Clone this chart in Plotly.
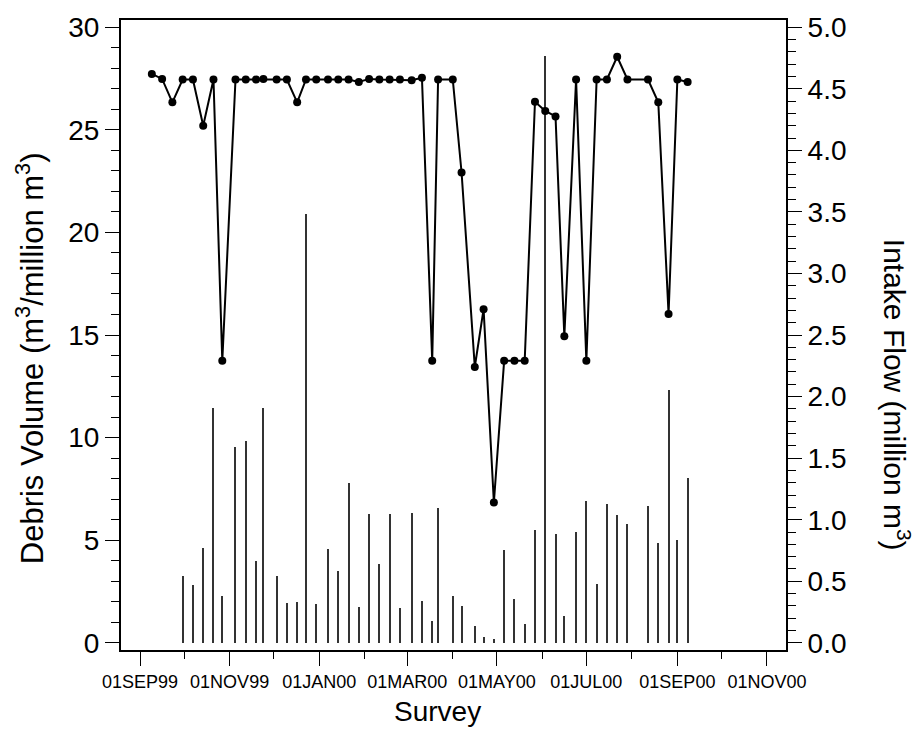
import plotly.graph_objects as go

# ---- data ----
survey_dates = [
    "1999-09-09", "1999-09-16", "1999-09-23", "1999-09-30", "1999-10-07", "1999-10-14",
    "1999-10-21", "1999-10-27", "1999-11-05", "1999-11-12", "1999-11-19", "1999-11-24",
    "1999-12-03", "1999-12-10", "1999-12-17", "1999-12-23", "1999-12-30", "2000-01-07",
    "2000-01-14", "2000-01-21", "2000-01-28", "2000-02-04", "2000-02-11", "2000-02-18",
    "2000-02-25", "2000-03-04", "2000-03-11", "2000-03-18", "2000-03-22", "2000-04-01",
    "2000-04-07", "2000-04-16", "2000-04-22", "2000-04-29", "2000-05-06", "2000-05-13",
    "2000-05-20", "2000-05-27", "2000-06-03", "2000-06-10", "2000-06-16", "2000-06-24",
    "2000-07-01", "2000-07-08", "2000-07-15", "2000-07-22", "2000-07-29", "2000-08-12",
    "2000-08-19", "2000-08-26", "2000-09-01", "2000-09-08",
]

intake_flow = [
    4.62, 4.58, 4.39, 4.575, 4.575, 4.20, 4.575, 2.29, 4.575, 4.575,
    4.575, 4.58, 4.575, 4.575, 4.39, 4.575, 4.575, 4.575, 4.575, 4.575,
    4.555, 4.58, 4.575, 4.575, 4.575, 4.57, 4.59, 2.29, 4.575, 4.575,
    3.82, 2.24, 2.71, 1.14, 2.29, 2.29, 2.29, 4.395, 4.32, 4.275,
    2.49, 4.575, 2.29, 4.575, 4.575, 4.76, 4.575, 4.575, 4.39, 2.67,
    4.575, 4.555,
]

debris_dates = survey_dates[3:]
debris_volume = [
    3.25, 2.81, 4.64, 11.43, 2.28, 9.56, 9.85, 3.98, 11.43, 3.25,
    1.95, 1.98, 20.9, 1.91, 4.59, 3.52, 7.79, 1.75, 6.26, 3.85,
    6.26, 1.70, 6.33, 2.04, 1.08, 6.57, 2.28, 1.80, 0.84, 0.26,
    0.21, 4.53, 2.14, 0.93, 5.51, 28.6, 5.32, 1.33, 5.41, 6.91,
    2.86, 6.78, 6.23, 5.78, 6.68, 4.88, 12.30, 5.03, 8.02,
]

x_major_vals = ["1999-09-01", "1999-11-01", "2000-01-01", "2000-03-01",
                "2000-05-01", "2000-07-01", "2000-09-01", "2000-11-01"]
x_major_text = ["01SEP99", "01NOV99", "01JAN00", "01MAR00",
                "01MAY00", "01JUL00", "01SEP00", "01NOV00"]
x_minor_vals = ["1999-10-01", "1999-12-01", "2000-02-01", "2000-04-01",
                "2000-06-01", "2000-08-01", "2000-10-01"]

FONT = "Liberation Sans, Arial, Helvetica, sans-serif"
DAY_MS = 86400000

fig = go.Figure()
fig.add_trace(go.Bar(
    x=debris_dates, y=debris_volume, width=0.7 * DAY_MS,
    marker=dict(color="#333333", line=dict(width=0)),
    yaxis="y", showlegend=False,
))
fig.add_trace(go.Scatter(
    x=survey_dates, y=intake_flow, mode="lines+markers",
    line=dict(color="black", width=2),
    marker=dict(color="black", size=8, symbol="circle"),
    yaxis="y2", showlegend=False,
))

fig.update_layout(
    width=920, height=729,
    margin=dict(l=121, r=134, t=13, b=79),
    paper_bgcolor="white", plot_bgcolor="white",
    font=dict(family=FONT, color="black"),
    bargap=0,
    xaxis=dict(
        type="date", range=["1999-08-19", "2000-11-14"],
        showline=True, linewidth=2, linecolor="black", mirror=True,
        showgrid=False, zeroline=False,
        tickmode="array", tickvals=x_major_vals, ticktext=x_major_text,
        ticks="outside", ticklen=14, tickwidth=1, tickcolor="black",
        tickangle=0, tickfont=dict(size=18, family=FONT),
        minor=dict(tickmode="array", tickvals=x_minor_vals, ticks="outside",
                   ticklen=7, tickwidth=1, tickcolor="black", showgrid=False),
    ),
    yaxis=dict(
        range=[-0.35, 30.35], showline=True, linewidth=2, linecolor="black",
        showgrid=False, zeroline=False,
        tickmode="linear", tick0=0, dtick=5,
        ticks="outside", ticklen=14, tickwidth=1, tickcolor="black",
        tickfont=dict(size=28, family=FONT),
        minor=dict(dtick=1, tick0=0, ticks="outside", ticklen=8,
                   tickwidth=1, tickcolor="black", showgrid=False),
    ),
    yaxis2=dict(
        range=[-0.35 / 6, 30.35 / 6], overlaying="y", side="right",
        showline=True, linewidth=2, linecolor="black",
        showgrid=False, zeroline=False,
        tickmode="linear", tick0=0, dtick=0.5, tickformat=".1f",
        ticks="outside", ticklen=14, tickwidth=1, tickcolor="black",
        tickfont=dict(size=28, family=FONT),
        minor=dict(dtick=0.1, tick0=0, ticks="outside", ticklen=8,
                   tickwidth=1, tickcolor="black", showgrid=False),
    ),
    annotations=[
        dict(text="Debris Volume (m<sup>3</sup>/million m<sup>3</sup>)",
             xref="paper", yref="paper", x=(30 - 121) / 665, y=(650 - 355) / 637,
             xanchor="center", yanchor="middle", textangle=-90, showarrow=False,
             font=dict(size=31, family=FONT)),
        dict(text="Intake Flow (million m<sup>3</sup>)",
             xref="paper", yref="paper", x=(897 - 121) / 665, y=(650 - 392) / 637,
             xanchor="center", yanchor="middle", textangle=90, showarrow=False,
             font=dict(size=30, family=FONT)),
        dict(text="Survey",
             xref="paper", yref="paper", x=(437 - 121) / 665, y=(650 - 712) / 637,
             xanchor="center", yanchor="middle", showarrow=False,
             font=dict(size=28, family=FONT)),
    ],
)

fig.write_html("out.html", config={"displayModeBar": False},
               post_script="document.body.style.margin='0';")
